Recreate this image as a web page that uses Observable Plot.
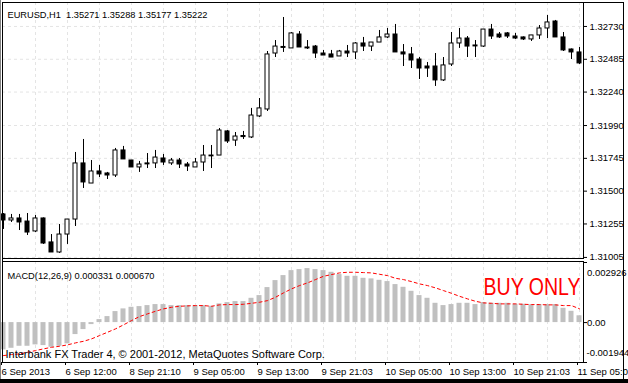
<!DOCTYPE html>
<html><head><meta charset="utf-8">
<script src="https://cdn.jsdelivr.net/npm/d3@7"></script>
<script src="https://cdn.jsdelivr.net/npm/@observablehq/plot@0.6"></script>
<style>
html,body{margin:0;padding:0;background:#fff;}
#wrap{position:relative;width:628px;height:383px;overflow:hidden;background:#fff;}
#wrap svg{position:absolute;left:0;}
.deco{position:absolute;}
</style></head><body><div id="wrap"></div>
<script>
const symbolTitle = "EURUSD,H1\u00a0 1.35271 1.35288 1.35177 1.35222";
const macdTitle = "MACD(12,26,9) 0.000331 0.000670";
const signalNote = "BUY ONLY";
const credit = "Interbank FX Trader 4, \u00a9 2001-2012, MetaQuotes Software Corp.";

const opens = [1.31326,1.31281,1.31296,1.31273,1.31199,1.31296,1.31117,1.31042,1.31176,1.31288,
1.31707,1.31557,1.31647,1.31632,1.31617,1.31804,1.31729,1.31677,1.31707,1.31707,
1.31744,1.31707,1.31729,1.31699,1.31677,1.31714,1.31766,1.31766,1.31946,1.31878,
1.31912,1.31901,1.32058,1.32110,1.32528,1.32577,1.32566,1.32670,1.32573,1.32580,
1.32528,1.32521,1.32506,1.32543,1.32536,1.32603,1.32580,1.32610,1.32648,1.32670,
1.32536,1.32521,1.32483,1.32431,1.32431,1.32327,1.32446,1.32603,1.32640,1.32588,
1.32580,1.32707,1.32670,1.32678,1.32655,1.32648,1.32633,1.32663,1.32715,1.32767,
1.32648,1.32558,1.32536];
const highs = [1.31333,1.31326,1.31326,1.31333,1.31318,1.31300,1.31176,1.31251,1.31288,1.31789,
1.31886,1.31729,1.31692,1.31640,1.31819,1.31834,1.31729,1.31722,1.31781,1.31804,
1.31774,1.31744,1.31744,1.31714,1.31744,1.31841,1.31841,1.31968,1.31953,1.31938,
1.31946,1.32118,1.32192,1.32543,1.32625,1.32797,1.32685,1.32692,1.32625,1.32588,
1.32551,1.32551,1.32551,1.32588,1.32610,1.32648,1.32610,1.32700,1.32715,1.32745,
1.32595,1.32573,1.32498,1.32461,1.32528,1.32498,1.32685,1.32715,1.32655,1.32625,
1.32707,1.32745,1.32685,1.32685,1.32678,1.32652,1.32663,1.32737,1.32812,1.32775,
1.32685,1.32562,1.32573];
const lows = [1.31214,1.31266,1.31206,1.31169,1.31191,1.31102,1.31042,1.31035,1.31102,1.31236,
1.31520,1.31557,1.31602,1.31587,1.31602,1.31737,1.31677,1.31640,1.31669,1.31669,
1.31692,1.31692,1.31669,1.31647,1.31677,1.31647,1.31669,1.31766,1.31856,1.31834,
1.31886,1.31893,1.32050,1.32095,1.32498,1.32536,1.32566,1.32573,1.32558,1.32491,
1.32513,1.32498,1.32506,1.32498,1.32483,1.32543,1.32543,1.32610,1.32640,1.32536,
1.32431,1.32416,1.32334,1.32349,1.32282,1.32319,1.32431,1.32566,1.32498,1.32498,
1.32573,1.32633,1.32640,1.32640,1.32633,1.32625,1.32618,1.32633,1.32640,1.32648,
1.32543,1.32483,1.32446];
const closes = [1.31281,1.31296,1.31266,1.31191,1.31296,1.31109,1.31042,1.31176,1.31288,1.31707,
1.31565,1.31647,1.31625,1.31617,1.31804,1.31737,1.31677,1.31699,1.31700,1.31751,
1.31714,1.31729,1.31699,1.31684,1.31714,1.31766,1.31760,1.31953,1.31871,1.31908,
1.31904,1.32065,1.32118,1.32521,1.32580,1.32570,1.32678,1.32573,1.32566,1.32528,
1.32513,1.32498,1.32543,1.32528,1.32603,1.32580,1.32610,1.32648,1.32670,1.32536,
1.32521,1.32476,1.32416,1.32416,1.32327,1.32439,1.32603,1.32640,1.32580,1.32581,
1.32707,1.32655,1.32648,1.32655,1.32640,1.32633,1.32663,1.32715,1.32760,1.32648,
1.32551,1.32536,1.32454];

const macdHist = [-0.001330,-0.001252,-0.001154,-0.001154,-0.001086,-0.001120,-0.001203,-0.001154,-0.001037,-0.000584,
-0.000341,-0.000097,0.000146,0.000292,0.000536,0.000667,0.000745,0.000779,0.000828,0.000877,
0.000877,0.000828,0.000828,0.000828,0.000828,0.000828,0.000794,0.000911,0.000974,0.001023,
0.001023,0.001183,0.001315,0.001705,0.002045,0.002289,0.002532,0.002581,0.002630,0.002581,
0.002532,0.002450,0.002338,0.002255,0.002255,0.002157,0.002128,0.002060,0.001997,0.001851,
0.001719,0.001524,0.001315,0.001183,0.000940,0.000828,0.000877,0.000940,0.000940,0.000877,
0.000974,0.000940,0.000940,0.000940,0.000891,0.000891,0.000862,0.000877,0.000877,0.000877,
0.000696,0.000550,0.000331];
const macdSignal = [-0.001607,-0.001558,-0.001524,-0.001446,-0.001364,-0.001281,-0.001203,-0.001154,-0.001086,-0.000989,
-0.000911,-0.000794,-0.000633,-0.000472,-0.000307,-0.000112,0.000097,0.000292,0.000424,0.000550,
0.000667,0.000745,0.000794,0.000813,0.000828,0.000828,0.000794,0.000862,0.000877,0.000877,
0.000891,0.000940,0.000989,0.001071,0.001232,0.001446,0.001641,0.001802,0.001933,0.002094,
0.002255,0.002338,0.002420,0.002450,0.002450,0.002435,0.002420,0.002352,0.002289,0.002157,
0.002094,0.001997,0.001885,0.001802,0.001690,0.001558,0.001427,0.001281,0.001154,0.001037,
0.000959,0.000940,0.000911,0.000911,0.000911,0.000891,0.000877,0.000877,0.000862,0.000862,
0.000828,0.000828,0.000670];

const priceTicks = [1.32730,1.32485,1.32240,1.31990,1.31745,1.31500,1.31255,1.31005];
const macdTickValues = [0.002926, 0, -0.001944];
const macdTickLabels = ["0.002926", "0.00", "-0.001944"];
const gridBars = [4,8,12,16,20,24,28,32,36,40,44,48,52,56,60,64,68,72];
const timeTickBars = [0,8,16,24,32,40,48,56,64,72];
const timeTickLabels = ["6 Sep 2013","6 Sep 12:00","8 Sep 21:10","9 Sep 05:00","9 Sep 13:00","9 Sep 21:03","10 Sep 05:00","10 Sep 13:00","10 Sep 21:03","11 Sep 05:00"];

const bars = opens.map((o, i) => ({i, o, h: highs[i], l: lows[i], c: closes[i]}));
const hist = macdHist.map((v, i) => ({i, v}));
const sig = macdSignal.map((v, i) => ({i, v}));

const FONT = '"Liberation Sans", Arial, sans-serif';
const gridStyle = {stroke: "#e4e4e4", strokeDasharray: "3,3"};
const xDomain = [-0.125, 72.5];

const main = Plot.plot({
  width: 628, height: 260,
  marginLeft: 2, marginRight: 45, marginTop: 2, marginBottom: 2,
  style: {fontFamily: FONT, fontSize: "9.5px", background: "transparent", overflow: "visible"},
  x: {domain: xDomain, axis: null},
  y: {domain: [1.30997, 1.32909], axis: null},
  marks: [
    Plot.ruleY(priceTicks, gridStyle),
    Plot.ruleX(gridBars, gridStyle),
    Plot.ruleX(bars, {x: "i", y1: "l", y2: "h", stroke: "black"}),
    Plot.rect(bars.filter(d => d.c >= d.o), {x1: d => d.i - 0.25, x2: d => d.i + 0.25, y1: "o", y2: "c", fill: "white", stroke: "black"}),
    Plot.rect(bars.filter(d => d.c < d.o), {x1: d => d.i - 0.25, x2: d => d.i + 0.25, y1: "o", y2: "c", fill: "black", stroke: "black"}),
    Plot.frame({stroke: "black"}),
    Plot.axisY({anchor: "right", ticks: priceTicks, tickFormat: d3.format(".5f"), tickSize: 3, tickPadding: 3, label: null, fill: "black"}),
    Plot.text([symbolTitle], {text: d => d, frameAnchor: "top-left", dx: 5, dy: 8.5, textAnchor: "start", fill: "black"})
  ]
});
main.style.top = "0px";

const macd = Plot.plot({
  width: 628, height: 124,
  marginLeft: 2, marginRight: 45, marginTop: 2, marginBottom: 21,
  style: {fontFamily: FONT, fontSize: "9.5px", background: "transparent"},
  x: {domain: xDomain},
  y: {domain: [-0.001944, 0.002975], axis: null},
  marks: [
    Plot.ruleX(gridBars, gridStyle),
    Plot.rect(hist, {x1: d => d.i - 0.3125, x2: d => d.i + 0.3125, y1: 0, y2: "v", fill: "#c0c0c0"}),
    Plot.line(sig, {x: "i", y: "v", stroke: "red", strokeWidth: 1, strokeDasharray: "3,3"}),
    Plot.frame({stroke: "black"}),
    Plot.axisX({ticks: timeTickBars, tickFormat: d => timeTickLabels[timeTickBars.indexOf(d)], tickSize: 3, tickPadding: 3, textAnchor: "start", dx: -2, label: null, fill: "black"}),
    Plot.axisY({anchor: "right", ticks: macdTickValues, tickSize: 3, tickFormat: () => "", label: null}),
    Plot.text([macdTickLabels[0]], {text: d => d, frameAnchor: "top-right", dx: 3.5, dy: 8, textAnchor: "start", fill: "black"}),
    Plot.text([macdTickValues[1]], {y: d => d, text: () => macdTickLabels[1], frameAnchor: "right", dx: 3.5, textAnchor: "start", fill: "black"}),
    Plot.text([macdTickLabels[2]], {text: d => d, frameAnchor: "bottom-right", dx: 3, dy: -7, textAnchor: "start", fill: "black"}),
    Plot.text([macdTitle], {text: d => d, frameAnchor: "top-left", dx: 5, dy: 10.7, textAnchor: "start", fill: "black"}),
    Plot.text([signalNote], {text: d => d, frameAnchor: "top-right", dx: -3, dy: 17.5, textAnchor: "end", fill: "red", fontSize: 23}),
    Plot.text([credit], {text: d => d, frameAnchor: "bottom-left", dx: 3, dy: -4.6, textAnchor: "start", fill: "black", fontSize: 11})
  ]
});
macd.style.top = "259px";
function fitText(svg, str, len) {
  d3.select(svg).selectAll("text").filter(function() { return this.textContent === str; })
    .attr("textLength", len).attr("lengthAdjust", "spacingAndGlyphs");
}
fitText(macd, signalNote, 97);
fitText(macd, macdTitle, 147);
fitText(main, symbolTitle, 200);

const wrap = document.getElementById("wrap");
wrap.appendChild(macd);
wrap.appendChild(main);
function deco(l, t, w, h, c) {
  const d = document.createElement("div");
  d.className = "deco";
  Object.assign(d.style, {left: l + "px", top: t + "px", width: w + "px", height: h + "px", background: c});
  wrap.appendChild(d);
}
deco(0, 0, 1, 383, "#808080");
deco(2, 258, 1, 4, "#000");
deco(2, 2, 622, 1, "#000");
deco(623, 2, 1, 377, "#000");
deco(0, 379, 628, 4, "#000");
</script></body></html>
